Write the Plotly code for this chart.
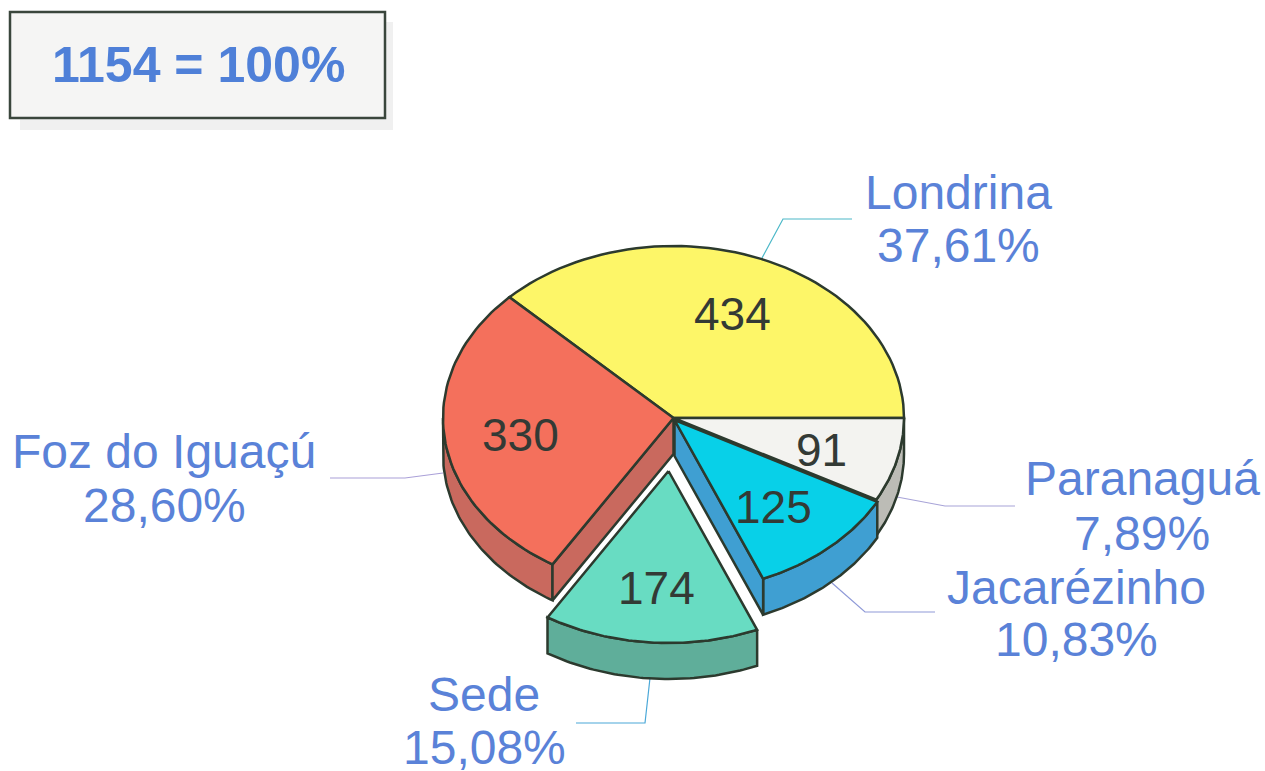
import math
import plotly.graph_objects as go

# --- data, clockwise from the 3 o'clock position ---
categories = ["Paranaguá", "Jacarézinho", "Sede", "Foz do Iguaçú", "Londrina"]
values = [91, 125, 174, 330, 434]
percent_labels = ["7,89%", "10,83%", "15,08%", "28,60%", "37,61%"]
total_label = "1154 = 100%"

# --- styles ---
top_colors = ["#f3f3f0", "#08d0e8", "#68dcc2", "#f4705c", "#fdf668"]
wall_colors = ["#bcbcb6", "#3f9fd2", "#5fae9a", "#c9695e", "#c9c45a"]
leader_colors = ["#a8a4d8", "#8f9ad8", "#4aa8d8", "#aaa0d8", "#4cb8c8"]
EDGE = "#2c3a2e"
TEXT = "#5a82d8"
NUM = "#333a35"

# --- pie geometry (pixel-like axis units) ---
CX, CY, RX, RY, DEPTH = 673.5, 418, 230.5, 172, 36
offsets = [(0, 0), (1, 2), (-5, 53), (0, 0), (0, 0)]
label_pos = [(1142, 478, 533), (1076, 587, 639), (484, 694, 747), (164, 451, 505), (958, 192, 245)]
number_pos = [(821, 450), (773, 507), (656, 588), (520, 435), (732, 314)]
leaders = [
    ([897, 945, 1015], [497, 506, 506]),
    ([832, 865, 935], [583, 612, 612]),
    ([650, 645, 576], [678, 723, 723]),
    ([330, 405, 443], [478, 478, 473]),
    ([762, 783, 852], [258, 219, 219]),
]

total = sum(values)
bounds = [0]
for v in values:
    bounds.append(bounds[-1] + v / total * 360)


def arc(a0, a1, ox=0, oy=0, n=60):
    xs, ys = [], []
    for i in range(n + 1):
        t = math.radians(a0 + (a1 - a0) * i / n)
        xs.append(CX + ox + RX * math.cos(t))
        ys.append(CY + oy + RY * math.sin(t))
    return xs, ys


fig = go.Figure()


def poly(xs, ys, fill):
    fig.add_trace(go.Scatter(x=list(xs) + [xs[0]], y=list(ys) + [ys[0]], mode="lines", fill="toself",
                             fillcolor=fill, line=dict(color=EDGE, width=2.5),
                             hoverinfo="skip", showlegend=False))


def wall_outer(i):
    a0, a1 = bounds[i], min(bounds[i + 1], 180)
    if a0 >= 180:
        return
    ox, oy = offsets[i]
    xs, ys = arc(a0, a1, ox, oy)
    poly(xs + xs[::-1], ys + [y + DEPTH for y in ys[::-1]], wall_colors[i])


def wall_radial(i, angle):
    ox, oy = offsets[i]
    t = math.radians(angle)
    x0, y0 = CX + ox, CY + oy
    x1, y1 = x0 + RX * math.cos(t), y0 + RY * math.sin(t)
    poly([x0, x1, x1, x0], [y0, y1, y1 + DEPTH, y0 + DEPTH], wall_colors[i])


def top(i):
    ox, oy = offsets[i]
    xs, ys = arc(bounds[i], bounds[i + 1], ox, oy)
    poly([CX + ox] + xs, [CY + oy] + ys, top_colors[i])


# leader lines sit under the pie
for (lx, ly), c in zip(leaders, leader_colors):
    fig.add_trace(go.Scatter(x=lx, y=ly, mode="lines", line=dict(color=c, width=1.2),
                             hoverinfo="skip", showlegend=False))

# back-to-front order
wall_outer(3)
wall_radial(3, bounds[3])
wall_outer(0)
top(4)
top(3)
top(0)
wall_outer(1)
wall_radial(1, bounds[2])
top(1)
wall_outer(2)
top(2)

annotations = []
for name, pct, (x, y1, y2) in zip(categories, percent_labels, label_pos):
    annotations.append(dict(x=x, y=y1, text=name, font=dict(size=48, color=TEXT)))
    annotations.append(dict(x=x, y=y2, text=pct, font=dict(size=48, color=TEXT)))
for v, (x, y) in zip(values, number_pos):
    annotations.append(dict(x=x, y=y, text=str(v), font=dict(size=46, color=NUM)))
annotations.append(dict(x=198, y=65, text=f"<b>{total_label}</b>", font=dict(size=50, color="#4f80d8")))
for a in annotations:
    a.update(xref="x", yref="y", showarrow=False, xanchor="center", yanchor="middle")
    a["font"]["family"] = "Liberation Sans"

fig.update_layout(
    width=1265, height=771, margin=dict(l=0, r=0, t=0, b=0),
    paper_bgcolor="white", plot_bgcolor="white", showlegend=False,
    xaxis=dict(range=[0, 1265], visible=False, fixedrange=True),
    yaxis=dict(range=[771, 0], visible=False, fixedrange=True),
    annotations=annotations,
    shapes=[
        dict(type="rect", xref="x", yref="y", x0=20, y0=22, x1=393, y1=130,
             fillcolor="#f0f0f0", line=dict(width=0), layer="below"),
        dict(type="rect", xref="x", yref="y", x0=10, y0=12, x1=385, y1=118,
             fillcolor="#f5f5f4", line=dict(color="#3a463c", width=2.5), layer="below"),
    ],
)
fig.write_html("out.html", config=dict(displayModeBar=False),
               post_script="document.body.style.margin='0';document.documentElement.style.overflow='hidden';")
